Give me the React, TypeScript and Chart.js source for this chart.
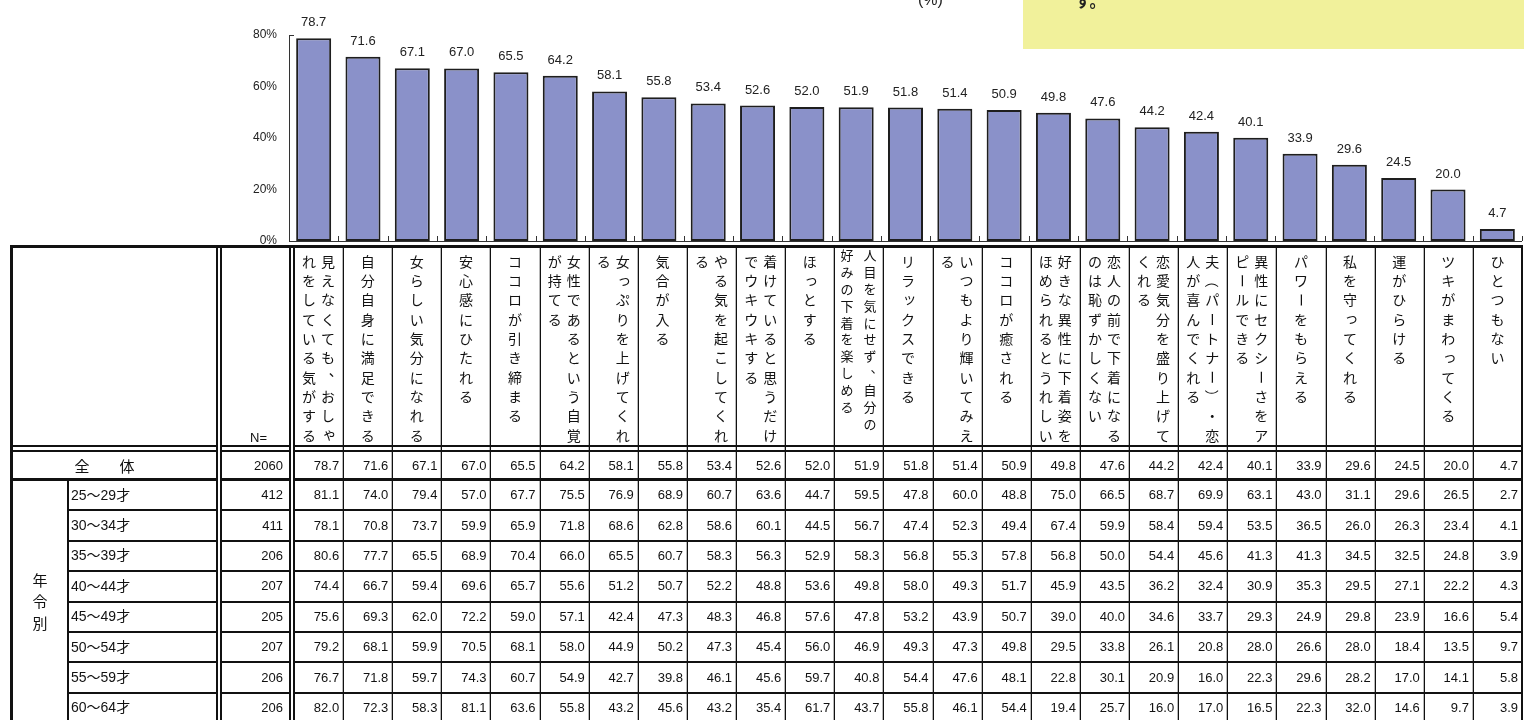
import React, { useEffect, useRef } from "react";
import { Chart, registerables } from "chart.js";

Chart.register(...registerables);

// ---------- data ----------
const headerLines: string[][] = [
  ["見えなくても、おしゃ", "れをしている気がする"],
  ["自分自身に満足できる"],
  ["女らしい気分になれる"],
  ["安心感にひたれる"],
  ["ココロが引き締まる"],
  ["女性であるという自覚", "が持てる"],
  ["女っぷりを上げてくれ", "る"],
  ["気合が入る"],
  ["やる気を起こしてくれ", "る"],
  ["着けていると思うだけ", "でウキウキする"],
  ["ほっとする"],
  ["人目を気にせず、自分の", "好みの下着を楽しめる"],
  ["リラックスできる"],
  ["いつもより輝いてみえ", "る"],
  ["ココロが癒される"],
  ["好きな異性に下着姿を", "ほめられるとうれしい"],
  ["恋人の前で下着になる", "のは恥ずかしくない"],
  ["恋愛気分を盛り上げて", "くれる"],
  ["夫（パートナー）・恋", "人が喜んでくれる"],
  ["異性にセクシーさをア", "ピールできる"],
  ["パワーをもらえる"],
  ["私を守ってくれる"],
  ["運がひらける"],
  ["ツキがまわってくる"],
  ["ひとつもない"],
];
const categories = headerLines.map((l) => l.join(""));

const overallLabel = "全　　体";
const overallN = 2060;
const overall = [78.7, 71.6, 67.1, 67.0, 65.5, 64.2, 58.1, 55.8, 53.4, 52.6, 52.0, 51.9, 51.8, 51.4, 50.9, 49.8, 47.6, 44.2, 42.4, 40.1, 33.9, 29.6, 24.5, 20.0, 4.7];

const groupLabel = "年令別";
const ageLabels = ["25～29才", "30～34才", "35～39才", "40～44才", "45～49才", "50～54才", "55～59才", "60～64才"];
const ageN = [412, 411, 206, 207, 205, 207, 206, 206];
const age25 = [81.1, 74.0, 79.4, 57.0, 67.7, 75.5, 76.9, 68.9, 60.7, 63.6, 44.7, 59.5, 47.8, 60.0, 48.8, 75.0, 66.5, 68.7, 69.9, 63.1, 43.0, 31.1, 29.6, 26.5, 2.7];
const age30 = [78.1, 70.8, 73.7, 59.9, 65.9, 71.8, 68.6, 62.8, 58.6, 60.1, 44.5, 56.7, 47.4, 52.3, 49.4, 67.4, 59.9, 58.4, 59.4, 53.5, 36.5, 26.0, 26.3, 23.4, 4.1];
const age35 = [80.6, 77.7, 65.5, 68.9, 70.4, 66.0, 65.5, 60.7, 58.3, 56.3, 52.9, 58.3, 56.8, 55.3, 57.8, 56.8, 50.0, 54.4, 45.6, 41.3, 41.3, 34.5, 32.5, 24.8, 3.9];
const age40 = [74.4, 66.7, 59.4, 69.6, 65.7, 55.6, 51.2, 50.7, 52.2, 48.8, 53.6, 49.8, 58.0, 49.3, 51.7, 45.9, 43.5, 36.2, 32.4, 30.9, 35.3, 29.5, 27.1, 22.2, 4.3];
const age45 = [75.6, 69.3, 62.0, 72.2, 59.0, 57.1, 42.4, 47.3, 48.3, 46.8, 57.6, 47.8, 53.2, 43.9, 50.7, 39.0, 40.0, 34.6, 33.7, 29.3, 24.9, 29.8, 23.9, 16.6, 5.4];
const age50 = [79.2, 68.1, 59.9, 70.5, 68.1, 58.0, 44.9, 50.2, 47.3, 45.4, 56.0, 46.9, 49.3, 47.3, 49.8, 29.5, 33.8, 26.1, 20.8, 28.0, 26.6, 28.0, 18.4, 13.5, 9.7];
const age55 = [76.7, 71.8, 59.7, 74.3, 60.7, 54.9, 42.7, 39.8, 46.1, 45.6, 59.7, 40.8, 54.4, 47.6, 48.1, 22.8, 30.1, 20.9, 16.0, 22.3, 29.6, 28.2, 17.0, 14.1, 5.8];
const age60 = [82.0, 72.3, 58.3, 81.1, 63.6, 55.8, 43.2, 45.6, 43.2, 35.4, 61.7, 43.7, 55.8, 46.1, 54.4, 19.4, 25.7, 16.0, 17.0, 16.5, 22.3, 32.0, 14.6, 9.7, 3.9];
const ageRows = [age25, age30, age35, age40, age45, age50, age55, age60];

const yTicks = [0, 20, 40, 60, 80];
const nLabel = "N=";
const noteTail = "す。";
const unitLabel = "(%)";

// ---------- drawing helpers ----------
const JP = '"Noto Sans CJK JP", "Noto Sans", sans-serif';
const NUM = '"Liberation Sans", Arial, "Noto Sans CJK JP", sans-serif';

function drawVertical(ctx: CanvasRenderingContext2D, text: string, x: number, y0: number, pitch: number, size: number) {
  let y = y0;
  for (const ch of Array.from(text)) {
    let dx = 0;
    let dy = 0;
    let rot = false;
    if (ch === "ー" || ch === "（" || ch === "）") rot = true;
    if (ch === "、") {
      dx = size * 0.55;
      dy = -size * 0.5;
    }
    if ("っゃゅょッャュョぁぃぅぇぉァィゥェォ".includes(ch)) {
      dx = size * 0.1;
      dy = -size * 0.1;
    }
    ctx.save();
    ctx.translate(x + dx, y + dy);
    if (rot) ctx.rotate(Math.PI / 2);
    ctx.fillText(ch, 0, 0);
    ctx.restore();
    y += pitch;
  }
}

const tablePlugin = {
  id: "tablePlugin",
  afterDraw(chart: any) {
    const ctx: CanvasRenderingContext2D = chart.ctx;
    const xs = chart.scales.x;
    const ys = chart.scales.y;
    const n = categories.length;
    const catW = (xs.right - xs.left) / n;
    const base = ys.getPixelForValue(0);
    const top = ys.getPixelForValue(yTicks[yTicks.length - 1]);

    ctx.save();
    // axes
    ctx.fillStyle = "#333";
    ctx.fillRect(Math.round(xs.left), Math.round(top), 1, Math.round(base - top) + 1);
    ctx.fillRect(Math.round(xs.left), Math.round(top), 5, 1);
    ctx.fillRect(Math.round(xs.left), Math.round(base), Math.round(xs.right - xs.left), 1);
    for (let i = 1; i <= n; i++) {
      const x = Math.round(xs.left + catW * i);
      ctx.fillRect(x, Math.round(base) - 5, 1, 5);
    }

    // bar value labels
    const meta = chart.getDatasetMeta(0);
    ctx.fillStyle = "#222";
    ctx.font = `13px ${NUM}`;
    ctx.textAlign = "center";
    ctx.textBaseline = "alphabetic";
    meta.data.forEach((bar: any, i: number) => {
      ctx.fillText(overall[i].toFixed(1), bar.x, bar.y - 12);
    });

    // note box & unit
    ctx.fillStyle = "#f1f19b";
    ctx.fillRect(1023, 0, chart.width - 1023, 49);
    ctx.fillStyle = "#222";
    ctx.font = `bold 16px ${JP}`;
    ctx.textAlign = "left";
    ctx.fillText(noteTail, 1075, 7);
    ctx.font = `16px ${NUM}`;
    ctx.fillText(unitLabel, 918, 5);

    // ---- table ----
    const tLeft = 10;
    const tRight = Math.round(xs.right);
    const tTop = 245;
    const tBottom = chart.height;
    const dataLeft = xs.left + 5;
    const colW = (xs.right - dataLeft) / n;
    const hdrBottom = 446;
    const totTop = 452;
    const totBottom = 479;
    const rowTop = 480;
    const rowH = 30.4;
    const grpRight = 68;
    const lblRight = 217;
    const nRight = 289;

    // thin column lines
    for (let k = 1; k < n; k++) {
      const x = Math.round(dataLeft + colW * k);
      ctx.fillStyle = "#b8b8b8";
      ctx.fillRect(x - 1, tTop, 1, tBottom - tTop);
      ctx.fillStyle = "#111";
      ctx.fillRect(x, tTop, 1, tBottom - tTop);
    }
    ctx.fillStyle = "#111";
    // row lines
    for (let r = 1; r < ageRows.length; r++) {
      const y = Math.round(rowTop + rowH * r);
      ctx.fillRect(grpRight, y - 1, tRight - grpRight, 2);
    }
    // horizontal heavy lines
    ctx.fillRect(tLeft, tTop, tRight - tLeft + 1, 3);
    ctx.fillRect(tLeft, hdrBottom - 1, tRight - tLeft + 1, 2);
    ctx.fillRect(tLeft, hdrBottom + 4, tRight - tLeft + 1, 2);
    ctx.fillRect(tLeft, totBottom - 1, tRight - tLeft + 1, 3);
    // vertical heavy lines
    ctx.fillRect(tLeft, tTop, 3, tBottom - tTop);
    ctx.fillRect(lblRight - 1, tTop, 2, tBottom - tTop);
    ctx.fillRect(lblRight + 3, tTop, 2, tBottom - tTop);
    ctx.fillRect(nRight, tTop, 2, tBottom - tTop);
    ctx.fillRect(nRight + 4, tTop, 2, tBottom - tTop);
    ctx.fillRect(tRight - 1, tTop, 2, tBottom - tTop);
    ctx.fillRect(grpRight - 1, rowTop, 2, tBottom - rowTop);
    // white gaps of double lines
    ctx.fillStyle = "#fff";
    ctx.fillRect(lblRight + 1, tTop + 3, 2, tBottom - tTop);
    ctx.fillRect(nRight + 2, tTop + 3, 2, tBottom - tTop);

    // header texts
    ctx.fillStyle = "#111";
    ctx.textAlign = "center";
    ctx.textBaseline = "middle";
    headerLines.forEach((lines, k) => {
      const cx = dataLeft + colW * (k + 0.5);
      const long = lines.some((l) => Array.from(l).length > 10);
      const size = long ? 13 : 14;
      const pitch = long ? 16.9 : 19.3;
      const y0 = long ? 255 : 261.5;
      ctx.font = `${size}px ${JP}`;
      if (lines.length === 1) {
        drawVertical(ctx, lines[0], cx, y0, pitch, size);
      } else {
        const off = long ? 11 : 9.5;
        drawVertical(ctx, lines[0], cx + off, y0, pitch, size);
        drawVertical(ctx, lines[1], cx - off - (long ? 1 : 0), y0, pitch, size);
      }
    });
    ctx.font = `13px ${NUM}`;
    ctx.textAlign = "left";
    ctx.textBaseline = "alphabetic";
    ctx.fillText(nLabel, 250, 442);

    // overall row
    const totY = (totTop + totBottom) / 2 + 0.5;
    ctx.font = `15px ${JP}`;
    ctx.textAlign = "center";
    ctx.textBaseline = "middle";
    ctx.fillText(overallLabel, 104.5, totY);
    ctx.font = `13px ${NUM}`;
    ctx.textAlign = "right";
    ctx.fillText(String(overallN), nRight - 6, totY);
    overall.forEach((v, k) => {
      ctx.fillText(v.toFixed(1), dataLeft + colW * (k + 1) - 4, totY);
    });

    // age rows
    ageRows.forEach((row, r) => {
      const cy = rowTop + rowH * (r + 0.5) + 0.5;
      ctx.font = `14px ${NUM}`;
      ctx.textAlign = "left";
      ctx.fillText(ageLabels[r], grpRight + 3, cy);
      ctx.font = `13px ${NUM}`;
      ctx.textAlign = "right";
      ctx.fillText(String(ageN[r]), nRight - 6, cy);
      row.forEach((v, k) => {
        ctx.fillText(v.toFixed(1), dataLeft + colW * (k + 1) - 4, cy);
      });
    });

    // group label (vertical)
    ctx.font = `15px ${JP}`;
    ctx.textAlign = "center";
    drawVertical(ctx, groupLabel, 40, 580, 21.5, 15);

    ctx.restore();
  },
};

export default function App() {
  const canvasRef = useRef<HTMLCanvasElement | null>(null);

  useEffect(() => {
    document.body.style.margin = "0";
    document.body.style.background = "#fff";
    const canvas = canvasRef.current;
    if (!canvas) return;
    Chart.defaults.font.family = NUM;
    const chart = new Chart(canvas, {
      type: "bar",
      data: {
        labels: categories,
        datasets: [
          {
            data: overall,
            backgroundColor: "#8a91c9",
            borderColor: "#1e1e1e",
            borderWidth: 2,
            borderSkipped: false,
            barPercentage: 0.71,
            categoryPercentage: 1,
          },
        ],
      },
      options: {
        responsive: false,
        animation: false,
        devicePixelRatio: 1,
        layout: { padding: { top: 35, bottom: 479, left: 0, right: 2 } },
        plugins: { legend: { display: false }, tooltip: { enabled: false }, title: { display: false } },
        scales: {
          x: { display: false, grid: { display: false } },
          y: {
            min: 0,
            max: 80,
            afterFit: (s: any) => {
              s.width = 289;
            },
            afterBuildTicks: (s: any) => {
              s.ticks = yTicks.map((v) => ({ value: v }));
            },
            border: { display: false },
            grid: { display: false, drawTicks: false },
            ticks: {
              padding: 12,
              color: "#222",
              font: { size: 12, family: NUM },
              callback: (v: any) => `${v}%`,
            },
          },
        },
      },
      plugins: [tablePlugin],
    });
    return () => chart.destroy();
  }, []);

  return (
    <div style={{ position: "relative", width: 1524, height: 720, overflow: "hidden" }}>
      <canvas ref={canvasRef} width={1524} height={720} style={{ display: "block", width: 1524, height: 720 }} />
    </div>
  );
}
